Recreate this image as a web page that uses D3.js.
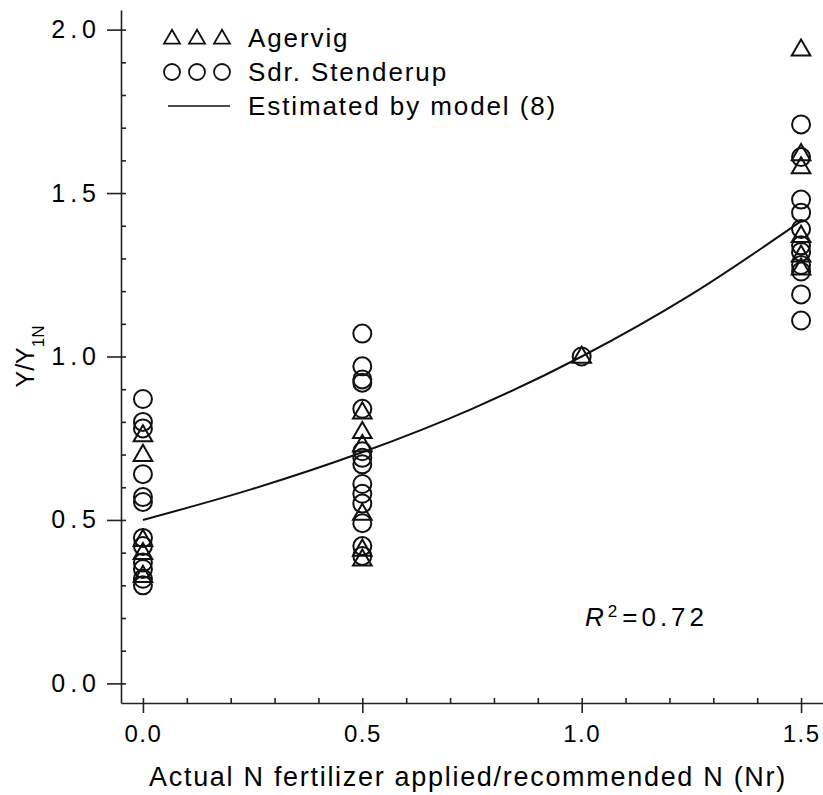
<!DOCTYPE html>
<html lang="en">
<head>
    <meta charset="UTF-8">
    <title>Y/Y1N vs Nr</title>
    <script src="https://d3js.org/d3.v7.min.js"></script>
    <style>
        body { margin: 0; background: #fff; }
        svg text { font-family: "Liberation Sans", Arial, Helvetica, sans-serif; fill: #000; }
        .axis path, .axis line { stroke: #222; stroke-width: 1.6; }
        .axis text { font-size: 24px; letter-spacing: 1.5px; }
        .yaxis text { font-size: 25px; letter-spacing: 5px; }
    </style>
</head>
<body>
    <div id="chart"></div>
    <script>
        // Data
        const xLevels = [0.0, 0.5, 1.0, 1.5];
        const xTickLabels = ["0.0", "0.5", "1.0", "1.5"];
        const yTickValues = [0.0, 0.5, 1.0, 1.5, 2.0];
        const yTickLabels = ["0.0", "0.5", "1.0", "1.5", "2.0"];

        // Sdr. Stenderup (circles), per N level
        const stenderup0 = [0.87, 0.80, 0.78, 0.64, 0.57, 0.555, 0.445, 0.42, 0.37, 0.35, 0.32, 0.30];
        const stenderup05 = [1.07, 0.97, 0.93, 0.92, 0.84, 0.71, 0.69, 0.67, 0.61, 0.58, 0.55, 0.49, 0.42, 0.39];
        const stenderup10 = [1.0];
        const stenderup15 = [1.71, 1.61, 1.48, 1.44, 1.39, 1.34, 1.32, 1.28, 1.26, 1.19, 1.11];

        // Agervig (triangles), per N level
        const agervig0 = [0.76, 0.70, 0.44, 0.40, 0.33];
        const agervig05 = [0.83, 0.77, 0.73, 0.52, 0.41, 0.38];
        const agervig10 = [1.0];
        const agervig15 = [1.94, 1.62, 1.58, 1.37, 1.31, 1.27];

        // model (8) curve, read at a few points
        const modelX = [0.0, 0.25, 0.5, 0.75, 1.0, 1.25, 1.5];
        const modelY = [0.50, 0.595, 0.707, 0.84, 1.0, 1.19, 1.414];

        const circles = [stenderup0, stenderup05, stenderup10, stenderup15]
            .flatMap((vals, i) => vals.map(v => ({x: xLevels[i], y: v})));
        const triangles = [agervig0, agervig05, agervig10, agervig15]
            .flatMap((vals, i) => vals.map(v => ({x: xLevels[i], y: v})));
        const curve = modelX.map((x, i) => ({x: x, y: modelY[i]}));

        const svg = d3.select('#chart').append('svg')
            .attr('width', 823)
            .attr('height', 795);

        const x = d3.scaleLinear().domain([-0.05, 1.55]).range([121, 823]);
        const y = d3.scaleLinear().domain([-0.06, 2.06]).range([703, 10]);

        // Axes
        svg.append("g")
            .attr("class", "axis")
            .attr("transform", `translate(0,${y(-0.06)})`)
            .call(d3.axisBottom(x).tickValues(xLevels)
                .tickFormat((d, i) => xTickLabels[i])
                .tickSizeInner(10).tickSizeOuter(0).tickPadding(12));

        // minor ticks on x (inward)
        svg.append("g")
            .attr("class", "axis")
            .attr("transform", `translate(0,${y(-0.06)})`)
            .call(d3.axisBottom(x).tickValues(d3.range(0, 16).map(i => i / 10))
                .tickFormat("").tickSizeInner(-5).tickSizeOuter(0))
            .select(".domain").remove();

        svg.append("g")
            .attr("class", "axis yaxis")
            .attr("transform", `translate(${x(-0.05)},0)`)
            .call(d3.axisLeft(y).tickValues(yTickValues)
                .tickFormat((d, i) => yTickLabels[i])
                .tickSizeInner(14).tickSizeOuter(0).tickPadding(6));

        // minor ticks on y (inward)
        svg.append("g")
            .attr("class", "axis")
            .attr("transform", `translate(${x(-0.05)},0)`)
            .call(d3.axisLeft(y).tickValues(d3.range(0, 21).map(i => i / 10))
                .tickFormat("").tickSizeInner(-5).tickSizeOuter(0))
            .select(".domain").remove();

        // Axis titles
        svg.append("text")
            .attr("x", 468)
            .attr("y", 786)
            .attr("text-anchor", "middle")
            .style("font-size", "27px")
            .style("letter-spacing", "1.7px")
            .text("Actual N fertilizer applied/recommended N (Nr)");

        const yLab = svg.append("text")
            .attr("transform", `translate(34,${y(1.0)}) rotate(-90)`)
            .attr("text-anchor", "middle")
            .style("font-size", "25px");
        yLab.append("tspan").text("Y/Y");
        yLab.append("tspan").attr("baseline-shift", "sub").style("font-size", "17px").text("1N");

        // Model curve
        const line = d3.line()
            .x(d => x(d.x))
            .y(d => y(d.y))
            .curve(d3.curveMonotoneX);

        svg.append("path")
            .datum(curve)
            .attr("d", line)
            .attr("fill", "none")
            .attr("stroke", "#111")
            .attr("stroke-width", 2);

        // Points
        const tri = d3.symbol().type(d3.symbolTriangle).size(150);

        svg.selectAll(".circ")
            .data(circles)
            .enter().append("circle")
            .attr("class", "circ")
            .attr("cx", d => x(d.x))
            .attr("cy", d => y(d.y))
            .attr("r", 9)
            .attr("fill", "none")
            .attr("stroke", "#111")
            .attr("stroke-width", 2);

        svg.selectAll(".tri")
            .data(triangles)
            .enter().append("path")
            .attr("class", "tri")
            .attr("d", tri)
            .attr("transform", d => `translate(${x(d.x)},${y(d.y) + 1})`)
            .attr("fill", "none")
            .attr("stroke", "#111")
            .attr("stroke-width", 2);

        // Legend
        const legend = svg.append("g");
        const legendTri = d3.symbol().type(d3.symbolTriangle).size(110);
        [172, 197, 222].forEach(lx => {
            legend.append("path")
                .attr("d", legendTri)
                .attr("transform", `translate(${lx},39)`)
                .attr("fill", "none").attr("stroke", "#111").attr("stroke-width", 1.8);
            legend.append("circle")
                .attr("cx", lx).attr("cy", 72).attr("r", 8)
                .attr("fill", "none").attr("stroke", "#111").attr("stroke-width", 1.8);
        });
        legend.append("line")
            .attr("x1", 168).attr("x2", 230)
            .attr("y1", 106).attr("y2", 106)
            .attr("stroke", "#111").attr("stroke-width", 1.6);

        const legendLabels = ["Agervig", "Sdr. Stenderup", "Estimated by model (8)"];
        legend.selectAll(".lt")
            .data(legendLabels)
            .enter().append("text")
            .attr("x", 248)
            .attr("y", (d, i) => 47 + i * 34)
            .style("font-size", "26px")
            .style("letter-spacing", "1.9px")
            .text(d => d);

        // R squared annotation
        const r2 = svg.append("text")
            .attr("x", 585)
            .attr("y", 626)
            .style("font-size", "26px")
            .style("letter-spacing", "4px");
        r2.append("tspan").style("font-style", "italic").text("R");
        r2.append("tspan").attr("baseline-shift", "super").style("font-size", "17px").text("2");
        r2.append("tspan").attr("dx", 1).text("=0.72");
    </script>
</body>
</html>
